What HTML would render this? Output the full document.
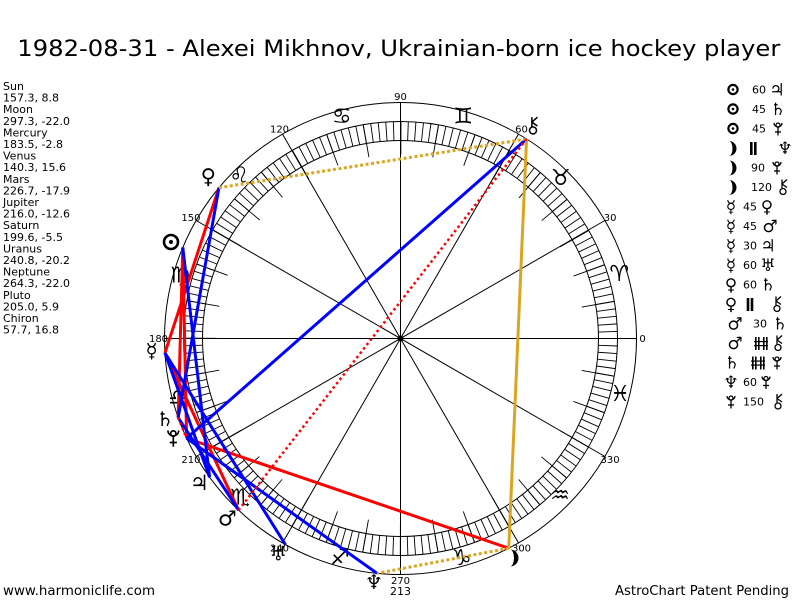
<!DOCTYPE html>
<html><head><meta charset="utf-8"><style>
html,body{margin:0;padding:0;background:#fff;}
svg{display:block;}
text{font-family:"DejaVu Sans","Liberation Sans",sans-serif;fill:#000;}
</style></head><body>
<svg width="800" height="600" viewBox="0 0 800 600" xmlns="http://www.w3.org/2000/svg">
<rect width="800" height="600" fill="#fff"/>
<text x="17.3" y="56" font-size="22" textLength="763" lengthAdjust="spacingAndGlyphs">1982-08-31 - Alexei Mikhnov, Ukrainian-born ice hockey player</text>

<!-- left panel -->
<text x="3" y="90" font-size="11">
<tspan x="3" y="90">Sun</tspan>
<tspan x="3" y="101.6">157.3, 8.8</tspan>
<tspan x="3" y="113.2">Moon</tspan>
<tspan x="3" y="124.8">297.3, -22.0</tspan>
<tspan x="3" y="136.4">Mercury</tspan>
<tspan x="3" y="148">183.5, -2.8</tspan>
<tspan x="3" y="159.6">Venus</tspan>
<tspan x="3" y="171.2">140.3, 15.6</tspan>
<tspan x="3" y="182.8">Mars</tspan>
<tspan x="3" y="194.4">226.7, -17.9</tspan>
<tspan x="3" y="206">Jupiter</tspan>
<tspan x="3" y="217.6">216.0, -12.6</tspan>
<tspan x="3" y="229.2">Saturn</tspan>
<tspan x="3" y="240.8">199.6, -5.5</tspan>
<tspan x="3" y="252.4">Uranus</tspan>
<tspan x="3" y="264">240.8, -20.2</tspan>
<tspan x="3" y="275.6">Neptune</tspan>
<tspan x="3" y="287.2">264.3, -22.0</tspan>
<tspan x="3" y="298.8">Pluto</tspan>
<tspan x="3" y="310.4">205.0, 5.9</tspan>
<tspan x="3" y="322">Chiron</tspan>
<tspan x="3" y="333.6">57.7, 16.8</tspan>
</text>

<!-- wheel -->
<g fill="none" stroke="#000" stroke-width="1">
<circle cx="400.5" cy="338.5" r="236"/>
<circle cx="400.5" cy="338.5" r="217"/>
<circle cx="400.5" cy="338.5" r="198"/>
</g>
<circle cx="400.5" cy="338.5" r="207.5" fill="none" stroke="#000" stroke-width="19" stroke-dasharray="0.9 6.3431" stroke-dashoffset="0.45"/>
<circle cx="400.5" cy="338.5" r="200.5" fill="none" stroke="#000" stroke-width="33" stroke-dasharray="0.9 34.094" stroke-dashoffset="0.45"/>
<g stroke="#000" stroke-width="1">
<line x1="164.5" y1="338.5" x2="636.5" y2="338.5"/>
<line x1="604.88" y1="220.5" x2="196.12" y2="456.5"/>
<line x1="518.5" y1="134.12" x2="282.5" y2="542.88"/>
<line x1="400.5" y1="102.5" x2="400.5" y2="574.5"/>
<line x1="282.5" y1="134.12" x2="518.5" y2="542.88"/>
<line x1="196.12" y1="220.5" x2="604.88" y2="456.5"/>
</g>
<circle cx="400.5" cy="338.5" r="3" fill="#000"/>

<!-- degree labels -->
<g font-size="10" text-anchor="middle">
<text x="642.5" y="342.1">0</text>
<text x="610.08" y="221.1">30</text>
<text x="521.5" y="132.5">60</text>
<text x="400.5" y="100.1">90</text>
<text x="279.5" y="132.5">120</text>
<text x="190.92" y="221.1">150</text>
<text x="158.5" y="342.1">180</text>
<text x="190.92" y="463.1">210</text>
<text x="279.5" y="551.7">240</text>
<text x="400.5" y="584.1">270</text>
<text x="521.5" y="551.7">300</text>
<text x="610.08" y="463.1">330</text>
</g>
<text x="400.5" y="595" font-size="11" text-anchor="middle">213</text>

<!-- zodiac signs -->
<g font-size="22" text-anchor="middle" font-weight="bold">
<text x="619.3" y="281">&#x2648;&#xFE0E;</text>
<text x="560.7" y="185">&#x2649;&#xFE0E;</text>
<text x="463.3" y="123.7">&#x264A;&#xFE0E;</text>
<text x="341.7" y="123.7">&#x264B;&#xFE0E;</text>
<text x="239.3" y="182.7">&#x264C;&#xFE0E;</text>
<text x="180" y="282.7">&#x264D;&#xFE0E;</text>
<text x="178" y="404.7">&#x264E;&#xFE0E;</text>
<text x="240" y="504.4">&#x264F;&#xFE0E;</text>
<text x="340" y="564.4">&#x2650;&#xFE0E;</text>
<text x="461.7" y="565">&#x2651;&#xFE0E;</text>
<text x="560" y="502.7">&#x2652;&#xFE0E;</text>
<text x="620" y="401">&#x2653;&#xFE0E;</text>
</g>

<!-- aspect lines -->
<g fill="none" stroke-width="3">
<g stroke="#ff0000">
<line x1="182.78" y1="247.43" x2="178.17" y2="417.67"/>
<line x1="182.78" y1="247.43" x2="186.61" y2="438.24"/>
<line x1="164.94" y1="352.91" x2="218.92" y2="187.75"/>
<line x1="164.94" y1="352.91" x2="238.55" y2="510.16"/>
<line x1="508.74" y1="548.21" x2="186.61" y2="438.24"/>
</g>
<g stroke="#0000ff">
<line x1="182.78" y1="247.43" x2="209.57" y2="477.22"/>
<line x1="164.94" y1="352.91" x2="209.57" y2="477.22"/>
<line x1="164.94" y1="352.91" x2="285.37" y2="544.51"/>
<line x1="218.92" y1="187.75" x2="178.17" y2="417.67"/>
<line x1="238.55" y1="510.16" x2="178.17" y2="417.67"/>
<line x1="377.06" y1="573.33" x2="186.61" y2="438.24"/>
<line x1="186.61" y1="438.24" x2="526.55" y2="138.99"/>
</g>
<line x1="508.74" y1="548.21" x2="526.55" y2="138.99" stroke="#daa520"/>
<g stroke="#daa520" stroke-dasharray="3 2.5">
<line x1="508.74" y1="548.21" x2="377.06" y2="573.33"/>
<line x1="218.92" y1="187.75" x2="526.55" y2="138.99"/>
</g>
<g stroke="#ff0000" stroke-width="2.5" stroke-dasharray="2.5 3">
<line x1="238.55" y1="510.16" x2="526.55" y2="138.99"/>
<line x1="178.17" y1="417.67" x2="186.61" y2="438.24"/>
</g>
</g>

<!-- planet glyphs in chart -->
<circle cx="171" cy="242" r="7" fill="none" stroke="#000" stroke-width="2.6"/>
<circle cx="171" cy="242" r="2" fill="#000"/>
<text x="208.3" y="183.5" font-size="21" text-anchor="middle">&#x2640;</text>
<text x="151.7" y="357.7" font-size="20" text-anchor="middle">&#x263F;</text>
<text x="165" y="426" font-size="20" text-anchor="middle">&#x2644;</text>
<text x="199.3" y="490" font-size="21" text-anchor="middle">&#x2643;</text>
<text x="227.3" y="525.6" font-size="21" text-anchor="middle">&#x2642;</text>
<text x="278.3" y="560.3" font-size="20" text-anchor="middle">&#x2645;</text>
<text x="374" y="589" font-size="20" text-anchor="middle">&#x2646;</text>
<!-- Moon icon -->
<path d="M510,549.5 A8.5,8.5 0 0 1 510,566.5 A4,8.5 0 0 0 510,549.5 Z" fill="#000"/>
<!-- Pluto icon in chart -->
<g transform="translate(173.3,438.3) scale(1.2)" fill="none" stroke="#000" stroke-width="1.4">
<circle cx="0" cy="-4" r="2.2"/>
<path d="M-4.5,-6.5 A4.5,4.5 0 0 0 4.5,-6.5"/>
<line x1="0" y1="-2" x2="0" y2="7"/>
<line x1="-3" y1="3.5" x2="3" y2="3.5"/>
</g>
<!-- Chiron icon in chart -->
<g transform="translate(533,126) scale(1.1)" fill="none" stroke="#000" stroke-width="1.4">
<line x1="-1" y1="-8" x2="-1" y2="0.5"/>
<line x1="-1" y1="-3.5" x2="4" y2="-8"/>
<line x1="-1" y1="-3.5" x2="4" y2="0"/>
<circle cx="0" cy="4" r="3.2"/>
</g>

<!-- right aspect list: first-column Sun & Moon icons -->
<g fill="none" stroke="#000" stroke-width="2.2">
<circle cx="733" cy="89.5" r="4.6"/>
<circle cx="733" cy="109" r="4.6"/>
<circle cx="733" cy="128.5" r="4.6"/>
</g>
<g fill="#000">
<circle cx="733" cy="89.5" r="1.3"/>
<circle cx="733" cy="109" r="1.3"/>
<circle cx="733" cy="128.5" r="1.3"/>
<path d="M729,141 A7.5,7.5 0 0 1 729,156 A3.5,7.5 0 0 0 729,141 Z"/>
<path d="M729,160.5 A7.5,7.5 0 0 1 729,175.5 A3.5,7.5 0 0 0 729,160.5 Z"/>
<path d="M729,180 A7.5,7.5 0 0 1 729,195 A3.5,7.5 0 0 0 729,180 Z"/>
</g>
<g font-size="17" text-anchor="middle">
<text x="731" y="212.5">&#x263F;</text>
<text x="731" y="232">&#x263F;</text>
<text x="731" y="251.5">&#x263F;</text>
<text x="731" y="271">&#x263F;</text>
<text x="731" y="290.5">&#x2640;</text>
<text x="731" y="310">&#x2640;</text>
<text x="735" y="329.5">&#x2642;</text>
<text x="735" y="349">&#x2642;</text>
<text x="732" y="368.5">&#x2644;</text>
<text x="731" y="388">&#x2646;</text>

<text x="777" y="95.5">&#x2643;</text>
<text x="778" y="115">&#x2644;</text>
<text x="785" y="154">&#x2646;</text>
<text x="767" y="212.5">&#x2640;</text>
<text x="770" y="232">&#x2642;</text>
<text x="768" y="251.5">&#x2643;</text>
<text x="768" y="271">&#x2645;</text>
<text x="768" y="290.5">&#x2644;</text>
<text x="780" y="329.5">&#x2644;</text>
</g>
<g font-size="11">
<text x="752" y="93.5">60</text>
<text x="752" y="113">45</text>
<text x="752" y="132.5">45</text>
<text x="751" y="171.5">90</text>
<text x="751" y="191">120</text>
<text x="743" y="210.5">45</text>
<text x="743" y="230">45</text>
<text x="743" y="249.5">30</text>
<text x="743" y="269">60</text>
<text x="743" y="288.5">60</text>
<text x="753" y="327.5">30</text>
<text x="743" y="386">60</text>
<text x="743" y="405.5">150</text>
</g>
<!-- parallel symbols -->
<g fill="#000">
<rect x="750" y="142" width="2.6" height="13"/>
<rect x="754" y="142" width="2.6" height="13"/>
<rect x="746.7" y="298" width="2.6" height="13"/>
<rect x="750.7" y="298" width="2.6" height="13"/>
</g>
<!-- contraparallel symbols -->
<g fill="#000">
<rect x="755" y="337" width="1.6" height="13"/><rect x="758" y="337" width="1.6" height="13"/>
<rect x="763" y="337" width="1.6" height="13"/><rect x="766" y="337" width="1.6" height="13"/>
<rect x="754" y="341" width="14" height="1.2"/><rect x="754" y="345" width="14" height="1.2"/>
<rect x="752" y="356.5" width="1.6" height="13"/><rect x="755" y="356.5" width="1.6" height="13"/>
<rect x="760" y="356.5" width="1.6" height="13"/><rect x="763" y="356.5" width="1.6" height="13"/>
<rect x="751" y="360.5" width="14" height="1.2"/><rect x="751" y="364.5" width="14" height="1.2"/>
</g>
<!-- Pluto icons in list -->
<g fill="none" stroke="#000" stroke-width="1.3">
<g transform="translate(778,129)"><circle cx="0" cy="-4" r="2"/><path d="M-4,-6 A4,4 0 0 0 4,-6"/><line x1="0" y1="-2" x2="0" y2="6.5"/><line x1="-3" y1="3" x2="3" y2="3"/></g>
<g transform="translate(777,168)"><circle cx="0" cy="-4" r="2"/><path d="M-4,-6 A4,4 0 0 0 4,-6"/><line x1="0" y1="-2" x2="0" y2="6.5"/><line x1="-3" y1="3" x2="3" y2="3"/></g>
<g transform="translate(777,363)"><circle cx="0" cy="-4" r="2"/><path d="M-4,-6 A4,4 0 0 0 4,-6"/><line x1="0" y1="-2" x2="0" y2="6.5"/><line x1="-3" y1="3" x2="3" y2="3"/></g>
<g transform="translate(766,382.5)"><circle cx="0" cy="-4" r="2"/><path d="M-4,-6 A4,4 0 0 0 4,-6"/><line x1="0" y1="-2" x2="0" y2="6.5"/><line x1="-3" y1="3" x2="3" y2="3"/></g>
<g transform="translate(731,402)"><circle cx="0" cy="-4" r="2"/><path d="M-4,-6 A4,4 0 0 0 4,-6"/><line x1="0" y1="-2" x2="0" y2="6.5"/><line x1="-3" y1="3" x2="3" y2="3"/></g>
</g>
<!-- Chiron icons in list -->
<g fill="none" stroke="#000" stroke-width="1.3">
<g transform="translate(783,187.5)"><line x1="-1" y1="-8" x2="-1" y2="0.5"/><line x1="-1" y1="-3.5" x2="4" y2="-8"/><line x1="-1" y1="-3.5" x2="4" y2="0"/><circle cx="0" cy="4" r="3"/></g>
<g transform="translate(777,304.5)"><line x1="-1" y1="-8" x2="-1" y2="0.5"/><line x1="-1" y1="-3.5" x2="4" y2="-8"/><line x1="-1" y1="-3.5" x2="4" y2="0"/><circle cx="0" cy="4" r="3"/></g>
<g transform="translate(778,343.5)"><line x1="-1" y1="-8" x2="-1" y2="0.5"/><line x1="-1" y1="-3.5" x2="4" y2="-8"/><line x1="-1" y1="-3.5" x2="4" y2="0"/><circle cx="0" cy="4" r="3"/></g>
<g transform="translate(778,402)"><line x1="-1" y1="-8" x2="-1" y2="0.5"/><line x1="-1" y1="-3.5" x2="4" y2="-8"/><line x1="-1" y1="-3.5" x2="4" y2="0"/><circle cx="0" cy="4" r="3"/></g>
</g>

<!-- footer -->
<text x="3" y="595" font-size="13" textLength="152" lengthAdjust="spacingAndGlyphs">www.harmoniclife.com</text>
<text x="615" y="595" font-size="13" textLength="174" lengthAdjust="spacingAndGlyphs">AstroChart Patent Pending</text>
</svg>
</body></html>
